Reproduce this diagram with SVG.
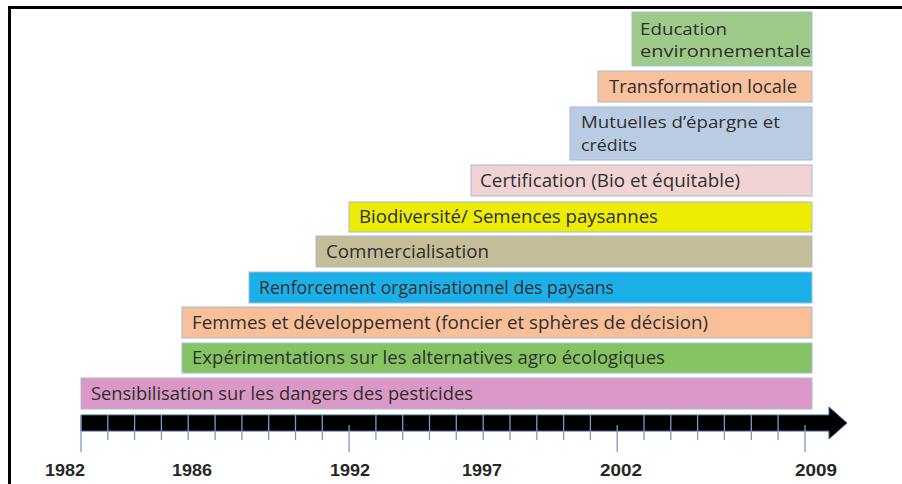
<svg xmlns="http://www.w3.org/2000/svg" width="902" height="484" viewBox="0 0 902 484">
<style>
.box{stroke:#a9bad3;stroke-width:1}
.lbl{font-family:"Open Sans","Liberation Sans",sans-serif;font-size:18px;fill:#2f2f2f}
.lbl2{font-family:"Open Sans","Liberation Sans",sans-serif;font-size:16px;fill:#2f2f2f}
.yr{font-family:"Liberation Sans",Arial,sans-serif;font-size:17px;font-weight:bold;fill:#262626}
.tk{stroke:#7d98c4;stroke-width:1.3}
</style>
<rect width="902" height="484" fill="#ffffff"/>
<path d="M9.5 484 V7.5 H902" fill="none" stroke="#000" stroke-width="3"/>

<g id="education">
<rect class="box" x="632" y="12" width="180" height="54" fill="#9fcb8a"/>
<text class="lbl2" x="640" y="35" textLength="87" lengthAdjust="spacingAndGlyphs">Education</text>
<text class="lbl2" x="640" y="57" textLength="171" lengthAdjust="spacingAndGlyphs">environnementale</text>
</g>
<g id="transformation">
<rect class="box" x="598" y="71" width="214" height="31" fill="#f9c19c"/>
<text class="lbl" x="609" y="93" textLength="188" lengthAdjust="spacingAndGlyphs">Transformation locale</text>
</g>
<g id="mutuelles">
<rect class="box" x="570" y="107" width="242" height="53" fill="#b9cce4"/>
<text class="lbl2" x="581" y="128" textLength="199" lengthAdjust="spacingAndGlyphs">Mutuelles d’épargne et</text>
<text class="lbl2" x="581" y="151" textLength="56" lengthAdjust="spacingAndGlyphs">crédits</text>
</g>
<g id="certification">
<rect class="box" x="471" y="165" width="341" height="31" fill="#f2d3d3"/>
<text class="lbl" x="480" y="187" textLength="260" lengthAdjust="spacingAndGlyphs">Certification (Bio et équitable)</text>
</g>
<g id="biodiversite">
<rect class="box" x="349" y="202" width="463" height="30" fill="#ecec04"/>
<text class="lbl" x="359" y="223" textLength="299" lengthAdjust="spacingAndGlyphs">Biodiversité/ Semences paysannes</text>
</g>
<g id="commercialisation">
<rect class="box" x="316" y="236" width="496" height="31" fill="#c4bd98"/>
<text class="lbl" x="326" y="258" textLength="163" lengthAdjust="spacingAndGlyphs">Commercialisation</text>
</g>
<g id="renforcement">
<rect class="box" x="249" y="272" width="563" height="31" fill="#1cb0e8"/>
<text class="lbl" x="259" y="294" textLength="355" lengthAdjust="spacingAndGlyphs">Renforcement organisationnel des paysans</text>
</g>
<g id="femmes">
<rect class="box" x="182" y="307" width="630" height="31" fill="#f9bf98"/>
<text class="lbl" x="192" y="329" textLength="516" lengthAdjust="spacingAndGlyphs">Femmes et développement (foncier et sphères de décision)</text>
</g>
<g id="experimentations">
<rect class="box" x="182" y="343" width="630" height="30" fill="#84c462"/>
<text class="lbl" x="192" y="364" textLength="473" lengthAdjust="spacingAndGlyphs">Expérimentations sur les alternatives agro écologiques</text>
</g>
<g id="sensibilisation">
<rect class="box" x="81" y="378" width="731" height="31" fill="#db98c6"/>
<text class="lbl" x="91" y="400" textLength="382" lengthAdjust="spacingAndGlyphs">Sensibilisation sur les dangers des pesticides</text>
</g>

<g id="timeline">
<path d="M81 415 H829 V407 L847 423 L829 439 V431 H81 Z" fill="#000" stroke="#3d5f8f" stroke-width="1"/>
<g class="tk">
<line x1="81" y1="415" x2="81" y2="452"/>
<line x1="107.8" y1="415" x2="107.8" y2="440"/>
<line x1="134.6" y1="415" x2="134.6" y2="440"/>
<line x1="161.4" y1="415" x2="161.4" y2="440"/>
<line x1="188.2" y1="415" x2="188.2" y2="440"/>
<line x1="215.1" y1="415" x2="215.1" y2="440"/>
<line x1="241.9" y1="415" x2="241.9" y2="440"/>
<line x1="268.7" y1="415" x2="268.7" y2="440"/>
<line x1="295.5" y1="415" x2="295.5" y2="440"/>
<line x1="322.3" y1="415" x2="322.3" y2="440"/>
<line x1="349.1" y1="425" x2="349.1" y2="452"/>
<line x1="375.9" y1="415" x2="375.9" y2="440"/>
<line x1="402.7" y1="415" x2="402.7" y2="440"/>
<line x1="429.5" y1="415" x2="429.5" y2="440"/>
<line x1="456.3" y1="415" x2="456.3" y2="440"/>
<line x1="483.2" y1="415" x2="483.2" y2="440"/>
<line x1="510" y1="415" x2="510" y2="440"/>
<line x1="536.8" y1="415" x2="536.8" y2="440"/>
<line x1="563.6" y1="415" x2="563.6" y2="440"/>
<line x1="590.4" y1="415" x2="590.4" y2="440"/>
<line x1="617.2" y1="425" x2="617.2" y2="452"/>
<line x1="644" y1="415" x2="644" y2="440"/>
<line x1="670.8" y1="415" x2="670.8" y2="440"/>
<line x1="697.6" y1="415" x2="697.6" y2="440"/>
<line x1="724.4" y1="415" x2="724.4" y2="440"/>
<line x1="751.3" y1="415" x2="751.3" y2="440"/>
<line x1="778.1" y1="415" x2="778.1" y2="440"/>
<line x1="805" y1="425" x2="805" y2="452"/>
</g>
<text class="yr" x="45" y="476" textLength="40" lengthAdjust="spacingAndGlyphs">1982</text>
<text class="yr" x="172" y="476" textLength="40" lengthAdjust="spacingAndGlyphs">1986</text>
<text class="yr" x="330" y="476" textLength="40" lengthAdjust="spacingAndGlyphs">1992</text>
<text class="yr" x="462" y="476" textLength="40" lengthAdjust="spacingAndGlyphs">1997</text>
<text class="yr" x="600" y="476" textLength="42" lengthAdjust="spacingAndGlyphs">2002</text>
<text class="yr" x="795" y="476" textLength="42" lengthAdjust="spacingAndGlyphs">2009</text>
</g>
</svg>
